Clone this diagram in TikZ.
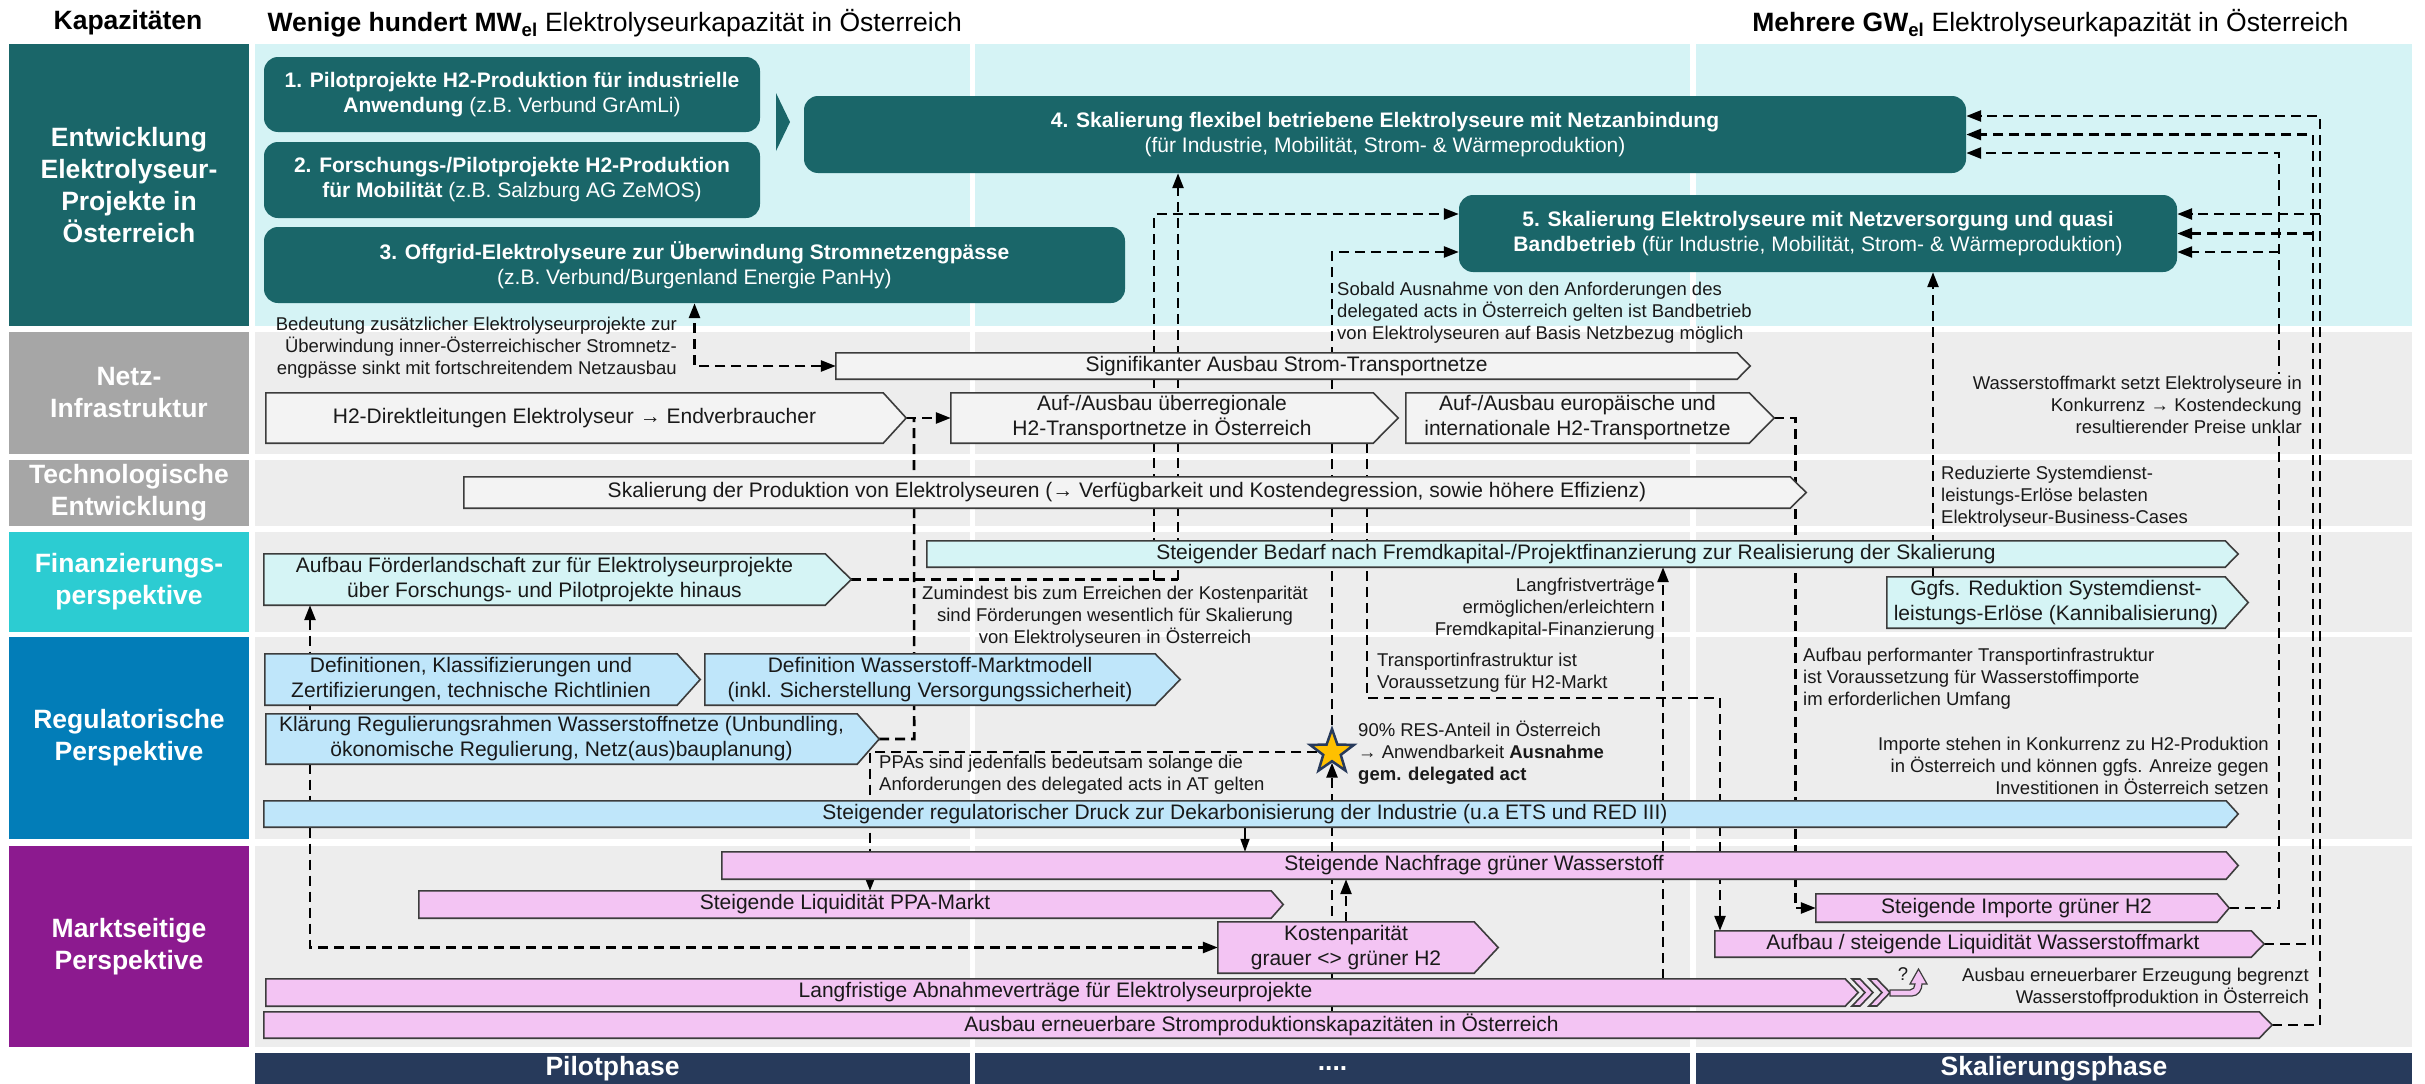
\documentclass[tikz,border=0pt]{standalone}
\usepackage{fontspec}
\setmainfont{Liberation Sans}
\usepackage{tikz}
\usetikzlibrary{shapes, arrows.meta, positioning, calc}

\definecolor{tealbox}{RGB}{26,102,105}
\definecolor{cyanbg}{RGB}{213,243,245}
\definecolor{graybg}{RGB}{237,237,237}
\definecolor{graylane}{RGB}{166,166,166}
\definecolor{finlane}{RGB}{44,204,210}
\definecolor{reglane}{RGB}{2,125,184}
\definecolor{marktlane}{RGB}{140,26,143}
\definecolor{navy}{RGB}{39,58,91}
\definecolor{netzfill}{RGB}{243,243,243}
\definecolor{finfill}{RGB}{213,244,245}
\definecolor{regfill}{RGB}{191,230,250}
\definecolor{pinkfill}{RGB}{243,196,243}
\definecolor{gold}{RGB}{255,192,0}
\definecolor{outline}{RGB}{60,60,60}

\pgfdeclarelayer{lanes}
\pgfdeclarelayer{links}
\pgfdeclarelayer{shapes}
\pgfsetlayers{lanes,links,shapes,main}

\newcommand{\boxfont}{\fontsize{21}{25}\selectfont}
\newcommand{\notefont}{\fontsize{18.5}{22}\selectfont}
\newcommand{\lanefont}{\fontsize{26.5}{32}\selectfont\bfseries}

% chevron outline behind a bar node (#3 = depth of the tip)
\newcommand{\chev}[3]{%
  \begin{pgfonlayer}{shapes}
    \draw[bar_line, fill=#2] (#1.north west) -- (#1.north east) -- ([xshift=#3pt]#1.east)
      -- (#1.south east) -- (#1.south west) -- cycle;
  \end{pgfonlayer}
  \coordinate (#1-tip) at ([xshift=#3pt]#1.east);
}

% one row: label box on the left, three phase columns behind
\newcommand{\lane}[6]{%
  \begin{pgfonlayer}{lanes}
    \foreach \xa/\xb in {255/970, 975/1690, 1696/2412}
      \fill[#5] (\xa,#2) rectangle (\xb,#3);
  \end{pgfonlayer}
  \node[lane_box, fill=#4, minimum height={#3-#2}] (#1) at (129,{(#2+#3)/2}) {#6};
}

\begin{document}
\begin{tikzpicture}[x=1pt, y=-1pt,
    lane_box/.style={rectangle, inner sep=0, minimum width=240, text=white, align=center, font=\lanefont},
    proj_node/.style={rectangle, rounded corners=14pt, fill=tealbox, text=white, align=center, font=\boxfont, inner sep=0},
    bar_node/.style={rectangle, inner sep=0, align=center, font=\boxfont, text=black!90},
    bar_line/.style={draw=outline, line width=1.6pt},
    note_text/.style={inner sep=0, font=\notefont, text=black!90},
    phase_node/.style={rectangle, fill=navy, text=white, inner sep=0, minimum height=31, font=\lanefont},
    dep_line/.style={line width=2.6pt, dash pattern=on 10pt off 6pt},
    dep_arrow/.style={dep_line, -{Triangle[length=15pt, width=11pt]}},
    dep_both/.style={dep_line, {Triangle[length=15pt, width=11pt]}-{Triangle[length=15pt, width=11pt]}},
    ]
    \useasboundingbox (0,0) rectangle (2425,1084);

    % Header
    \node[font=\lanefont] (kap) at (128,23) {Kapazitäten};
    \node[anchor=west, font=\fontsize{26.5}{32}\selectfont] (cap_low) at (264,23)
        {\textbf{Wenige hundert MW\textsubscript{el}} Elektrolyseurkapazität in Österreich};
    \node[anchor=east, font=\fontsize{26.5}{32}\selectfont] (cap_high) at (2352,23)
        {\textbf{Mehrere GW\textsubscript{el}} Elektrolyseurkapazität in Österreich};

    % Rows
    \lane{lane_dev}{44}{326}{tealbox}{cyanbg}{Entwicklung\\Elektrolyseur-\\Projekte in\\Österreich}
    \lane{lane_grid}{332}{454}{graylane}{graybg}{Netz-\\Infrastruktur}
    \lane{lane_tech}{460}{526}{graylane}{graybg}{Technologische\\Entwicklung}
    \lane{lane_fin}{532}{632}{finlane}{graybg}{Finanzierungs-\\perspektive}
    \lane{lane_reg}{637}{839}{reglane}{graybg}{Regulatorische\\Perspektive}
    \lane{lane_mkt}{846}{1047}{marktlane}{graybg}{Marktseitige\\Perspektive}

    % Phases
    \node[phase_node, minimum width=715] (ph_pilot) at (612.5,1068.5) {Pilotphase};
    \node[phase_node, minimum width=715] (ph_mid) at (1332.5,1068.5) {....};
    \node[phase_node, minimum width=716] (ph_scale) at (2054,1068.5) {Skalierungsphase};

    % Projects
    \node[proj_node, minimum width=496, minimum height=75] (proj1) at (512,94.5)
        {\textbf{1. Pilotprojekte H2-Produktion für industrielle}\\\textbf{Anwendung} (z.B. Verbund GrAmLi)};
    \node[proj_node, minimum width=496, minimum height=76] (proj2) at (512,180)
        {\textbf{2. Forschungs-/Pilotprojekte H2-Produktion}\\\textbf{für Mobilität} (z.B. Salzburg AG ZeMOS)};
    \node[proj_node, minimum width=861, minimum height=76] (proj3) at (694.5,265)
        {\textbf{3. Offgrid-Elektrolyseure zur Überwindung Stromnetzengpässe}\\(z.B. Verbund/Burgenland Energie PanHy)};
    \node[proj_node, minimum width=1162, minimum height=77] (proj4) at (1385,134.5)
        {\textbf{4. Skalierung flexibel betriebene Elektrolyseure mit Netzanbindung}\\(für Industrie, Mobilität, Strom- \& Wärmeproduktion)};
    \node[proj_node, minimum width=718, minimum height=77] (proj5) at (1818,233.5)
        {\textbf{5. Skalierung Elektrolyseure mit Netzversorgung und quasi}\\\textbf{Bandbetrieb} (für Industrie, Mobilität, Strom- \& Wärmeproduktion)};
    \fill[tealbox] (776,93) -- (790,122) -- (776,151) -- cycle;

    % Netz-Infrastruktur
    \node[bar_node, minimum width=901, minimum height=26] (signif) at (1286.5,366) {Signifikanter Ausbau Strom-Transportnetze};
    \chev{signif}{netzfill}{13}
    \node[bar_node, minimum width=617, minimum height=50] (direkt) at (574.5,418) {H2-Direktleitungen Elektrolyseur → Endverbraucher};
    \chev{direkt}{netzfill}{23}
    \node[bar_node, minimum width=422, minimum height=50] (ueberreg) at (1162,418) {Auf-/Ausbau überregionale\\H2-Transportnetze in Österreich};
    \chev{ueberreg}{netzfill}{25}
    \node[bar_node, minimum width=343, minimum height=50] (europ) at (1577.5,418) {Auf-/Ausbau europäische und\\internationale H2-Transportnetze};
    \chev{europ}{netzfill}{25}

    % Technologische Entwicklung
    \node[bar_node, minimum width=1326, minimum height=31] (skal) at (1127,492.5)
        {Skalierung der Produktion von Elektrolyseuren (→ Verfügbarkeit und Kostendegression, sowie höhere Effizienz)};
    \chev{skal}{netzfill}{16}

    % Finanzierung
    \node[bar_node, minimum width=561, minimum height=51] (foerder) at (544.5,579.5)
        {Aufbau Förderlandschaft zur für Elektrolyseurprojekte\\über Forschungs- und Pilotprojekte hinaus};
    \chev{foerder}{finfill}{26}
    \node[bar_node, minimum width=1298, minimum height=26] (bedarf) at (1576,554)
        {Steigender Bedarf nach Fremdkapital-/Projektfinanzierung zur Realisierung der Skalierung};
    \chev{bedarf}{finfill}{13}
    \node[bar_node, minimum width=338, minimum height=51] (ggfs) at (2056,602.5)
        {Ggfs. Reduktion Systemdienst-\\leistungs-Erlöse (Kannibalisierung)};
    \chev{ggfs}{finfill}{23}

    % Regulatorik
    \node[bar_node, minimum width=412, minimum height=51] (defin) at (471,679.5)
        {Definitionen, Klassifizierungen und\\Zertifizierungen, technische Richtlinien};
    \chev{defin}{regfill}{23}
    \node[bar_node, minimum width=450, minimum height=51] (markt) at (930,679.5)
        {Definition Wasserstoff-Marktmodell\\(inkl. Sicherstellung Versorgungssicherheit)};
    \chev{markt}{regfill}{25}
    \node[bar_node, minimum width=591, minimum height=50] (klaer) at (561.5,739)
        {Klärung Regulierungsrahmen Wasserstoffnetze (Unbundling,\\ökonomische Regulierung, Netz(aus)bauplanung)};
    \chev{klaer}{regfill}{22}
    \node[bar_node, minimum width=1962, minimum height=26] (druck) at (1245,814)
        {Steigender regulatorischer Druck zur Dekarbonisierung der Industrie (u.a ETS und RED III)};
    \chev{druck}{regfill}{12}

    % Markt
    \node[bar_node, minimum width=1504, minimum height=27] (nachfrage) at (1474,865.5) {Steigende Nachfrage grüner Wasserstoff};
    \chev{nachfrage}{pinkfill}{12}
    \node[bar_node, minimum width=852, minimum height=27] (ppa) at (845,904.5) {Steigende Liquidität PPA-Markt};
    \chev{ppa}{pinkfill}{12}
    \node[bar_node, minimum width=256, minimum height=51] (kosten) at (1346,947.5) {Kostenparität\\grauer <> grüner H2};
    \chev{kosten}{pinkfill}{24}
    \node[bar_node, minimum width=401, minimum height=28] (importe) at (2016.5,908) {Steigende Importe grüner H2};
    \chev{importe}{pinkfill}{12}
    \node[bar_node, minimum width=536, minimum height=26] (liqui) at (1983,944) {Aufbau / steigende Liquidität Wasserstoffmarkt};
    \chev{liqui}{pinkfill}{13}
    \node[bar_node, minimum width=1579, minimum height=27] (langfr) at (1055.5,992.5) {Langfristige Abnahmeverträge für Elektrolyseurprojekte};
    \chev{langfr}{pinkfill}{13}
    \begin{pgfonlayer}{shapes}
        \foreach \s in {1852,1869}
            \draw[bar_line, fill=pinkfill] (\s,979) -- (\s+8,979) -- (\s+21,992.5) -- (\s+8,1006) -- (\s,1006) -- (\s+13,992.5) -- cycle;
        \draw[bar_line, line width=1.2pt, fill=pinkfill] (1890,996) -- (1912,996) to[out=0,in=-90] (1922,984) -- (1927,984)
            -- (1918.5,969) -- (1910,984) -- (1915,984) to[out=-90,in=0] (1910,990) -- (1890,990) -- cycle;
    \end{pgfonlayer}
    \node[note_text] (qmark) at (1903,974) {?};
    \node[bar_node, minimum width=1995, minimum height=26] (ausbau) at (1261.5,1025) {Ausbau erneuerbare Stromproduktionskapazitäten in Österreich};
    \chev{ausbau}{pinkfill}{13}

    % Milestone
    \node[star, star points=5, star point ratio=2.5, minimum size=46, inner sep=0, fill=gold, draw=navy, line width=2.5pt] (res90) at (1332,752) {};

    % Notes
    \node[note_text, align=right, anchor=east] (n_grid) at (677,348)
        {Bedeutung zusätzlicher Elektrolyseurprojekte zur\\Überwindung inner-Österreichischer Stromnetz-\\engpässe sinkt mit fortschreitendem Netzausbau};
    \node[note_text, align=left, anchor=west] (n_band) at (1337,313)
        {Sobald Ausnahme von den Anforderungen des\\delegated acts in Österreich gelten ist Bandbetrieb\\von Elektrolyseuren auf Basis Netzbezug möglich};
    \node[note_text, align=right, anchor=east, fill=graybg, inner sep=2pt] (n_comp) at (2304,405)
        {Wasserstoffmarkt setzt Elektrolyseure in\\Konkurrenz → Kostendeckung\\resultierender Preise unklar};
    \node[note_text, align=left, anchor=west] (n_sdl) at (1941,497)
        {Reduzierte Systemdienst-\\leistungs-Erlöse belasten\\Elektrolyseur-Business-Cases};
    \node[note_text, align=center] (n_foerd) at (1115,617)
        {Zumindest bis zum Erreichen der Kostenparität\\sind Förderungen wesentlich für Skalierung\\von Elektrolyseuren in Österreich};
    \node[note_text, align=right, anchor=east] (n_lfv) at (1655,609)
        {Langfristverträge\\ermöglichen/erleichtern\\Fremdkapital-Finanzierung};
    \node[note_text, align=left, anchor=west] (n_trans) at (1377,673)
        {Transportinfrastruktur ist\\Voraussetzung für H2-Markt};
    \node[note_text, align=left, anchor=west] (n_imp) at (1803,679)
        {Aufbau performanter Transportinfrastruktur\\ist Voraussetzung für Wasserstoffimporte\\im erforderlichen Umfang};
    \node[note_text, align=left, anchor=west] (n_res) at (1358,753)
        {90\% RES-Anteil in Österreich\\→ Anwendbarkeit \textbf{Ausnahme}\\\textbf{gem. delegated act}};
    \node[note_text, align=left, anchor=west] (n_ppa) at (879,775)
        {PPAs sind jedenfalls bedeutsam solange die\\Anforderungen des delegated acts in AT gelten};
    \node[note_text, align=right, anchor=east] (n_konk) at (2269,766)
        {Importe stehen in Konkurrenz zu H2-Produktion\\in Österreich und können ggfs. Anreize gegen\\Investitionen in Österreich setzen};
    \node[note_text, align=right, anchor=east] (n_limit) at (2309,988)
        {Ausbau erneuerbarer Erzeugung begrenzt\\Wasserstoffproduktion in Österreich};

    % Bends and entry points
    \coordinate (jF) at (1178,579.5);
    \coordinate (jF2) at (1154,579.5);
    \coordinate (jN) at (914,418);
    \coordinate (xF) at (310,0);
    \coordinate (xP) at (870,0);
    \coordinate (tA) at (1367,698);
    \coordinate (tB) at (1720,698);
    \coordinate (xL) at (1663,0);
    \coordinate (xG) at (1933,0);
    \coordinate (rI) at (2279,0);
    \coordinate (rL) at (2313,0);
    \coordinate (rA) at (2320,0);
    \coordinate (b4r1) at ([yshift=18.5pt]proj4.east);
    \coordinate (b4r2) at (proj4.east);
    \coordinate (b4r3) at ([yshift=-18.5pt]proj4.east);
    \coordinate (b5r1) at ([yshift=19.5pt]proj5.east);
    \coordinate (b5r2) at (proj5.east);
    \coordinate (b5r3) at ([yshift=-18.5pt]proj5.east);
    \coordinate (b5l1) at ([yshift=19.5pt]proj5.west);
    \coordinate (b5l3) at ([yshift=-18.5pt]proj5.west);

    % Arrows
    \begin{pgfonlayer}{links}
        \draw[dep_both] (signif.west) -| (proj3.south);
        \draw[dep_line] (foerder-tip) -- (jF);
        \draw[dep_arrow] (jF) -- (proj4.south -| jF);
        \draw[dep_arrow] (jF2) |- (b5l1);
        \draw[dep_arrow] (res90.north) |- (b5l3);
        \draw[dep_arrow] (ausbau.north -| res90) -- (res90.south);
        \draw[dep_arrow] (res90.west) -| (ppa.north -| xP);
        \draw[dep_line] (klaer-tip) -- ++(35,0) -- (jN);
        \draw[dep_arrow] (direkt-tip) -- (ueberreg.west);
        \draw[dep_both] (foerder.south -| xF) |- (kosten.west);
        \draw[dep_arrow] (kosten.north) -- (kosten.north |- nachfrage.south);
        \draw[line width=1.5pt, -{Triangle[length=13pt, width=9pt]}] (druck.south) -- (druck.south |- nachfrage.north);
        \draw[dep_arrow] (ueberreg.south -| tA) -- (tA) -- (tB) -- (liqui.north -| tB);
        \draw[dep_arrow] (langfr.north -| xL) -- (bedarf.south -| xL);
        \draw[dep_arrow] (europ-tip) -- ++(21,0) |- (importe.west);
        \draw[dep_arrow] (ggfs.north -| xG) -- (proj5.south -| xG);
        \draw[dep_arrow] (importe-tip) -| (b4r3 -| rI) -- (b4r3);
        \draw[dep_arrow] (b5r3 -| rI) -- (b5r3);
        \draw[dep_arrow] (liqui-tip) -| (b4r2 -| rL) -- (b4r2);
        \draw[dep_arrow] (b5r2 -| rL) -- (b5r2);
        \draw[dep_arrow] (ausbau-tip) -| (b4r1 -| rA) -- (b4r1);
        \draw[dep_arrow] (b5r1 -| rA) -- (b5r1);
    \end{pgfonlayer}
\end{tikzpicture}
\end{document}
